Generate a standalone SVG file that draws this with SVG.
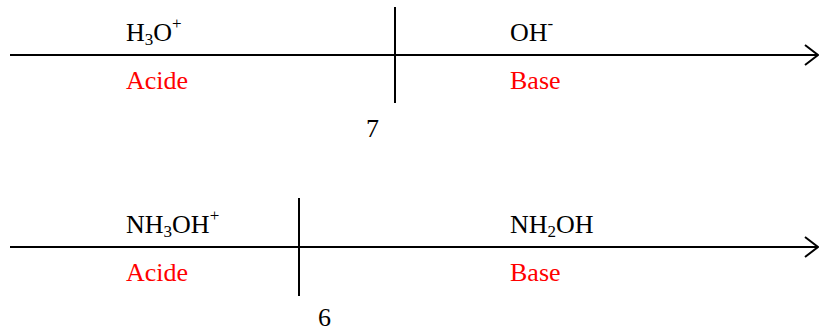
<svg xmlns="http://www.w3.org/2000/svg" width="819" height="332" viewBox="0 0 819 332">
<style>
text{font-family:"Liberation Serif","Times New Roman",serif;font-size:26px;fill:#000}
.red{fill:#ff0000}
.sub{font-size:17px}
.ln{stroke:#000;stroke-width:2;fill:none}
</style>
<rect width="819" height="332" fill="#fff"/>
<g id="connectors">
<line class="ln" x1="10" y1="55" x2="817" y2="55"/>
<polyline class="ln" points="805,45 818,55 805,65"/>
<line class="ln" x1="395" y1="7" x2="395" y2="103"/>
<line class="ln" x1="10" y1="247" x2="817" y2="247"/>
<polyline class="ln" points="805,237 818,247 805,257"/>
<line class="ln" x1="299" y1="198" x2="299" y2="296"/>
</g>
<g id="h3o">
<text x="126" y="41">H<tspan class="sub" dy="4">3</tspan><tspan dy="-4">O</tspan><tspan class="sub" dy="-12">+</tspan></text>
</g>
<g id="oh">
<text x="510" y="41">OH<tspan class="sub" dy="-12">-</tspan></text>
</g>
<g id="acide1"><text class="red" x="126" y="89">Acide</text></g>
<g id="base1"><text class="red" x="510" y="89">Base</text></g>
<g id="pk1"><text x="366" y="137">7</text></g>
<g id="nh3oh">
<text x="126" y="233">NH<tspan class="sub" dy="4">3</tspan><tspan dy="-4">OH</tspan><tspan class="sub" dy="-12">+</tspan></text>
</g>
<g id="nh2oh">
<text x="510" y="233">NH<tspan class="sub" dy="4">2</tspan><tspan dy="-4">OH</tspan></text>
</g>
<g id="acide2"><text class="red" x="126" y="281">Acide</text></g>
<g id="base2"><text class="red" x="510" y="281">Base</text></g>
<g id="pk2"><text x="318" y="326">6</text></g>
</svg>
